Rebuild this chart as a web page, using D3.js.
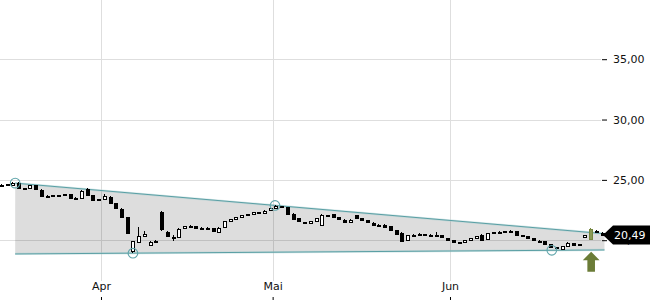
<!DOCTYPE html>
<html><head><meta charset="utf-8">
<script src="https://cdn.jsdelivr.net/npm/d3@7/dist/d3.min.js"></script>
<style>
body{margin:0;background:#fff}
svg{display:block}
text{font-family:"DejaVu Sans",sans-serif}
</style>
</head><body>
<svg id="chart" width="650" height="300"></svg>
<script>
// ---- data ----
const firstDay = "2024-03-14";   // one candle per calendar day from here
const opens  = [24.60,24.60,24.62,24.75,24.30,24.26,24.55,24.20,23.70,23.70,23.72,23.70,23.80,23.50,23.48,24.25,23.75,23.36,
  23.42,23.62,23.05,22.60,21.90,19.05,19.85,20.35,19.60,19.85,22.35,20.70,20.25,20.30,20.95,21.15,21.15,21.00,21.05,21.00,20.75,21.05,21.55,21.75,21.90,22.10,22.15,22.30,22.28,22.45,
  22.65,22.80,22.75,22.20,21.80,21.48,21.40,21.60,21.30,22.10,22.15,21.90,21.70,21.50,22.05,21.80,21.65,21.45,21.30,21.30,21.15,20.85,20.60,20.00,20.40,20.45,20.50,20.45,20.45,20.40,20.20,
  20.00,19.86,19.82,20.00,20.20,20.45,20.10,20.58,20.70,20.70,20.75,20.75,20.40,20.35,20.15,19.96,19.90,19.65,19.42,19.30,19.54,19.75,19.60,20.25,20.10,20.80,20.62];
const highs  = [24.66,24.65,24.80,24.80,24.34,24.60,24.58,24.22,23.74,23.75,23.74,23.84,23.82,23.54,24.12,24.30,23.78,23.44,
  23.80,23.66,23.08,22.64,21.95,19.95,21.10,20.80,19.95,20.00,22.40,20.75,20.40,21.00,21.18,21.25,21.18,21.08,21.08,21.02,21.08,21.60,21.78,21.92,22.12,22.18,22.35,22.34,22.48,22.68,
  22.90,22.85,22.78,22.24,21.84,21.50,21.58,21.85,22.15,22.12,22.20,21.92,21.72,21.74,22.08,21.82,21.68,21.48,21.34,21.32,21.18,20.88,20.65,20.45,20.48,20.58,20.52,20.48,20.65,20.42,20.22,
  20.02,19.88,20.02,20.22,20.38,20.48,20.60,20.72,20.74,20.78,20.86,20.78,20.44,20.37,20.17,19.98,19.92,19.67,19.45,19.56,19.82,19.78,19.68,20.45,21.02,20.85,20.64];
const lows   = [24.55,24.55,24.58,24.25,24.22,24.24,24.15,23.66,23.66,23.68,23.66,23.68,23.46,23.42,23.45,23.70,23.32,23.32,
  23.40,23.10,22.62,21.92,20.50,18.95,19.75,20.30,19.55,19.80,20.80,20.30,19.90,20.25,20.92,21.10,20.98,20.96,20.96,20.70,20.72,21.02,21.52,21.72,21.88,22.06,22.12,22.20,22.25,22.42,
  22.62,22.72,22.15,21.76,21.52,21.35,21.38,21.58,21.25,21.96,21.86,21.66,21.46,21.48,21.76,21.62,21.42,21.28,21.26,21.12,20.82,20.52,19.90,19.95,20.38,20.42,20.42,20.42,20.38,20.18,19.98,
  19.83,19.78,19.80,19.98,20.18,20.02,20.08,20.56,20.66,20.68,20.72,20.42,20.30,20.12,19.93,19.86,19.62,19.38,19.22,19.28,19.52,19.58,19.58,20.20,20.05,20.60,20.45];
const closes = [24.60,24.62,24.75,24.30,24.26,24.55,24.20,23.70,23.70,23.72,23.70,23.80,23.50,23.48,24.08,23.75,23.36,23.42,
  23.68,23.15,22.66,21.96,20.60,19.90,20.35,20.50,19.85,19.95,20.90,20.35,20.30,20.95,21.15,21.15,21.00,21.05,21.00,20.75,21.05,21.55,21.75,21.90,22.10,22.15,22.30,22.28,22.45,22.65,
  22.80,22.75,22.20,21.80,21.55,21.40,21.55,21.82,22.10,22.00,21.90,21.70,21.50,21.70,21.80,21.65,21.45,21.30,21.30,21.15,20.85,20.55,19.95,20.40,20.45,20.55,20.45,20.45,20.40,20.20,20.00,
  19.86,19.80,20.00,20.20,20.35,20.05,20.58,20.70,20.70,20.75,20.75,20.45,20.35,20.15,19.96,19.90,19.65,19.42,19.30,19.54,19.80,19.60,19.65,20.40,20.95,20.70,20.49];
const signalDays = ["2024-06-25"];            // highlighted candle + arrow
const upperTrend = [["2024-03-17", 24.73], ["2024-06-28", 20.54]];
const lowerTrend = [["2024-03-17", 18.86], ["2024-06-28", 19.19]];
const upperTouches = ["2024-03-17T00:00", "2024-05-01T10:00"];
const lowerTouches = ["2024-04-06T14:00", "2024-06-18T19:00"];
const monthTicks  = ["2024-04-01", "2024-05-01", "2024-06-01"];
const monthLabels = ["Apr", "Mai", "Jun"];
const priceTicks  = [20, 25, 30, 35];

// ---- scales ----
const svg = d3.select("#chart");
const utc = s => new Date(s.length > 10 ? s + ":00Z" : s + "T00:00:00Z");
const x = d3.scaleUtc()
  .domain([new Date(Date.UTC(2024, 2, 14, 8, 24)), new Date(Date.UTC(2024, 5, 29))])
  .range([0, 610.2]);
const y = d3.scaleLinear().domain([20, 35]).range([240.2, 59.2]);
const de = d3.formatLocale({decimal: ",", thousands: ".", grouping: [3], currency: ["", " €"]});
const fmt = de.format(".2f");

const t0 = utc(firstDay);
const candles = closes.map((c, i) => ({
  date: new Date(t0.getTime() + (i + 0.5) * 864e5),
  o: opens[i], h: highs[i], l: lows[i], c
}));
const signalSet = new Set(signalDays.map(s => utc(s).getTime()));
const isSignal = d => signalSet.has(d3.utcDay.floor(d.date).getTime());

// ---- grid ----
const grid = svg.append("g").attr("shape-rendering", "crispEdges");
grid.selectAll(".hg").data(priceTicks).join("line")
  .attr("x1", 0).attr("x2", 601)
  .attr("y1", d => Math.round(y(d)) + 0.5).attr("y2", d => Math.round(y(d)) + 0.5)
  .attr("stroke", "#dedede");
grid.selectAll(".vg").data(monthTicks).join("line")
  .attr("x1", d => Math.round(x(utc(d))) + 0.5).attr("x2", d => Math.round(x(utc(d))) + 0.5)
  .attr("y1", 0).attr("y2", 281)
  .attr("stroke", "#dedede");

// ---- channel ----
const tl = pts => pts.map(([d, v]) => [x(utc(d)), y(v)]);
const up = tl(upperTrend), lo = tl(lowerTrend);
svg.append("path")
  .attr("d", d3.line()([up[0], up[1], lo[1], lo[0]]) + "Z")
  .attr("fill", "#000").attr("fill-opacity", 0.135);
const trendAt = (pts, d) => {
  const s = d3.scaleUtc().domain(pts.map(p => utc(p[0]))).range(pts.map(p => p[1]));
  return y(s(d));
};
[up, lo].forEach(p => {
  svg.append("path").attr("d", d3.line()(p)).attr("stroke", "#a9d0d2").attr("stroke-width", 2.2).attr("fill", "none").attr("opacity", 0.5);
  svg.append("path").attr("d", d3.line()(p)).attr("stroke", "#5a9fa4").attr("stroke-width", 1).attr("fill", "none");
});

// ---- candles ----
const cg = svg.append("g").attr("shape-rendering", "crispEdges");
const cx = d => Math.round(x(d.date)) + 0.5;
cg.selectAll(".wick").data(candles).join("line")
  .attr("x1", cx).attr("x2", cx)
  .attr("y1", d => Math.round(y(d.h))).attr("y2", d => Math.round(y(d.l)))
  .attr("stroke", d => isSignal(d) ? "#76873f" : "#000");
cg.selectAll(".body").data(candles).join("rect")
  .attr("x", d => cx(d) - 1.5)
  .attr("width", 3)
  .attr("y", d => Math.round(y(Math.max(d.o, d.c))))
  .attr("height", d => Math.max(1, Math.round(Math.abs(y(d.o) - y(d.c)))))
  .attr("fill", d => isSignal(d) ? "#8a9a55" : (d.c >= d.o ? "#fff" : "#000"))
  .attr("stroke", d => isSignal(d) ? "#76873f" : "#000")
  .attr("stroke-width", 1);

// ---- touch circles ----
const circ = [...upperTouches.map(d => [x(utc(d)), trendAt(upperTrend, utc(d))]),
              ...lowerTouches.map(d => [x(utc(d)), trendAt(lowerTrend, utc(d))])];
svg.selectAll(".touch").data(circ).join("circle")
  .attr("cx", d => d[0]).attr("cy", d => d[1]).attr("r", 4.8)
  .attr("fill", "none").attr("stroke", "#5fa4aa").attr("stroke-width", 1.1);

// ---- signal arrow ----
signalDays.forEach(s => {
  const ax = x(new Date(utc(s).getTime() + 0.5 * 864e5)) + 1;
  const top = 251.7;
  svg.append("path")
    .attr("d", `M${ax},${top} L${ax + 8.4},${top + 8.5} L${ax + 3.8},${top + 8.5} L${ax + 3.8},${top + 20} L${ax - 3.8},${top + 20} L${ax - 3.8},${top + 8.5} L${ax - 8.4},${top + 8.5} Z`)
    .attr("fill", "#6b7c37");
});

// ---- axes ----
const xAxis = d3.axisBottom(x).tickValues(monthTicks.map(utc))
  .tickFormat((d, i) => monthLabels[i]).tickSize(3);
const gx = svg.append("g").attr("transform", "translate(0,297)").call(xAxis);
gx.select(".domain").remove();
gx.selectAll("line").attr("stroke", "#000");
gx.selectAll("text").attr("y", -15).attr("dy", "0.71em").attr("font-size", 11)
  .attr("font-family", "DejaVu Sans").attr("fill", "#111");

const yAxis = d3.axisRight(y).tickValues(priceTicks).tickFormat(fmt).tickSize(5).tickPadding(6);
const gy = svg.append("g").attr("transform", "translate(602,0)").call(yAxis);
gy.select(".domain").remove();
gy.selectAll("line").attr("stroke", "#000");
gy.selectAll("text").attr("font-size", 11).attr("font-family", "DejaVu Sans").attr("fill", "#111");

// ---- last price label ----
const last = closes[closes.length - 1];
const ly = y(last) + 0.8;
svg.append("path")
  .attr("d", `M603,${ly} L613,${ly - 9.5} L650,${ly - 9.5} L650,${ly + 9.5} L613,${ly + 9.5} Z`)
  .attr("fill", "#000");
svg.append("text").attr("x", 614).attr("y", ly).attr("dy", "0.35em")
  .attr("font-size", 11).attr("fill", "#fff").text(fmt(last));
</script>
</body></html>
